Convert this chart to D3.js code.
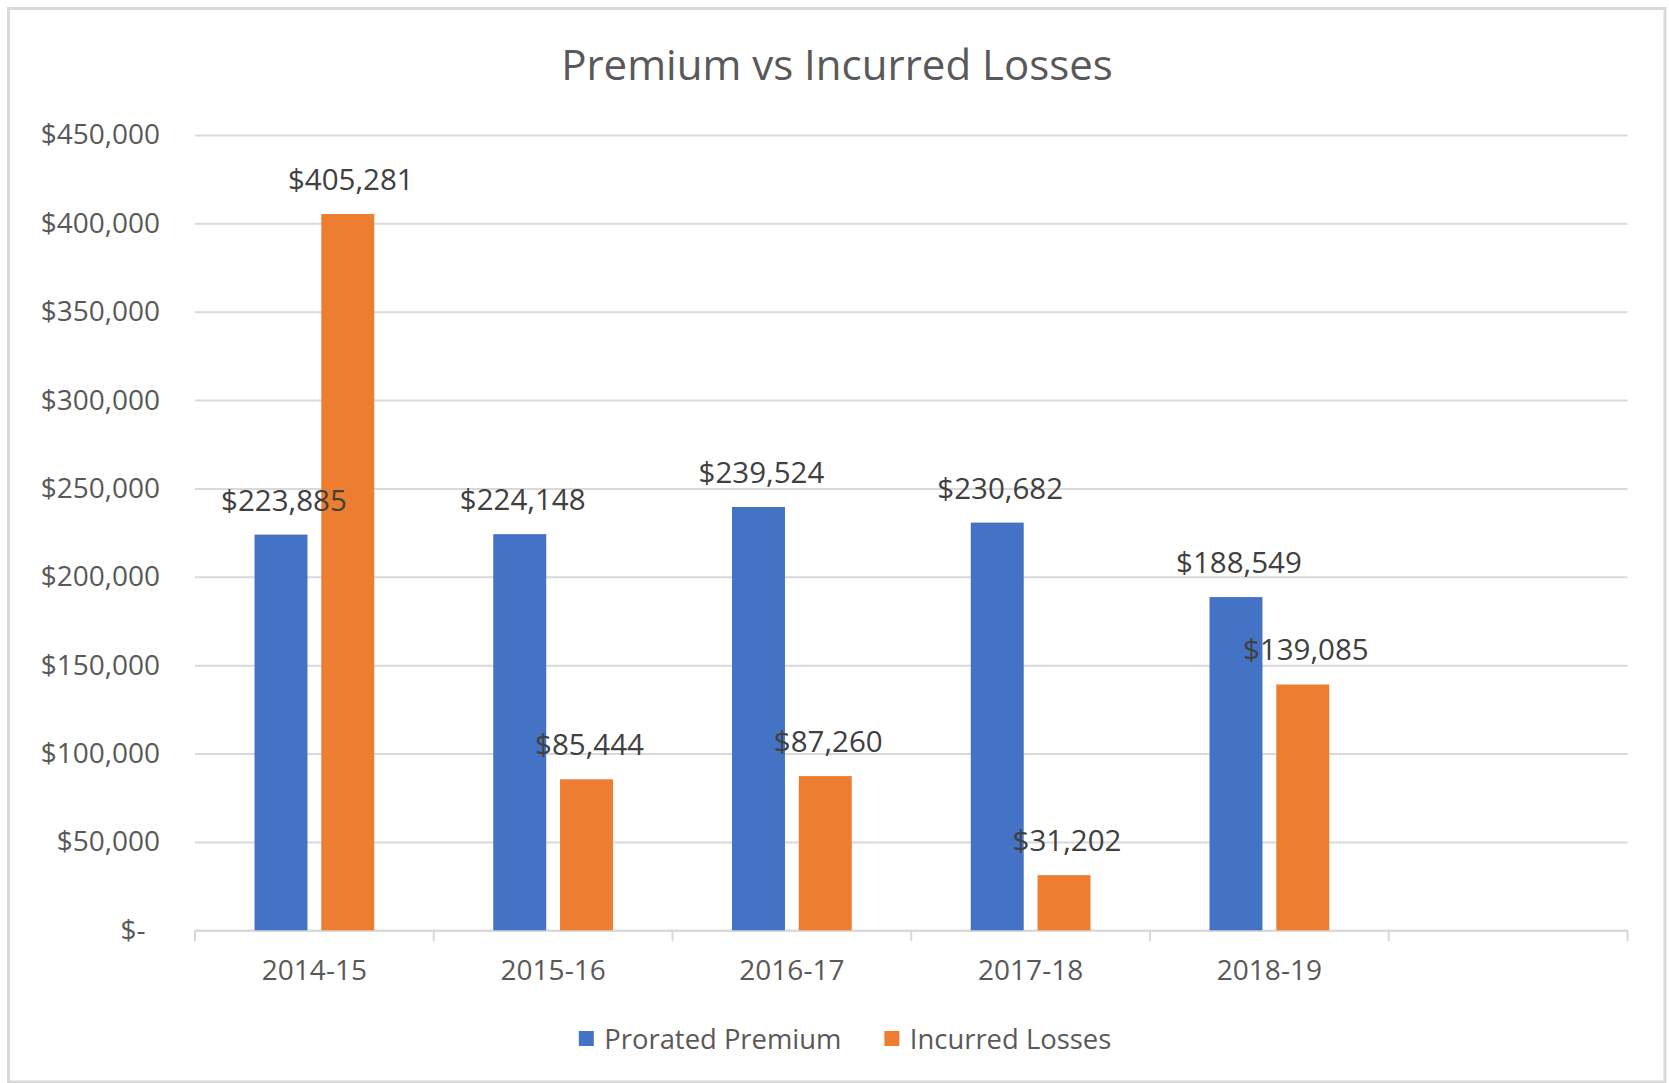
<!DOCTYPE html>
<html>
<head>
<meta charset="utf-8">
<script src="https://cdn.jsdelivr.net/npm/d3@7"></script>
<style>
  body { margin: 0; background: #fff; }
  text { font-family: "Open Sans", sans-serif; }
</style>
</head>
<body>
<div class="container"></div>
<script>
// chart data
var categories = ["2014-15", "2015-16", "2016-17", "2017-18", "2018-19", ""];
var seriesNames = ["Prorated Premium", "Incurred Losses"];
var premium = [223885, 224148, 239524, 230682, 188549];
var losses = [405281, 85444, 87260, 31202, 139085];
var yTicks = [0, 50000, 100000, 150000, 200000, 250000, 300000, 350000, 400000, 450000];
var colors = ["#4472C4", "#ED7D31"];

var W = 1669, H = 1083;
var margin = {top: 135, right: 41.5, bottom: 152.7, left: 195};
var width = W - margin.left - margin.right,
    height = H - margin.top - margin.bottom;

var svg = d3.select(".container")
  .append("svg")
    .attr("width", W)
    .attr("height", H);

// chart border
svg.append("rect")
  .attr("x", 8.5).attr("y", 8.5)
  .attr("width", W - 4 - 8.5).attr("height", H - 1 - 8.5)
  .attr("fill", "#fff")
  .attr("stroke", "#d9d9d9")
  .attr("stroke-width", 3);

svg.append("text")
  .attr("x", 837)
  .attr("y", 80)
  .attr("text-anchor", "middle")
  .attr("font-size", 42)
  .attr("fill", "#595959")
  .text("Premium vs Incurred Losses");

var g = svg.append("g")
  .attr("transform", "translate(" + margin.left + "," + margin.top + ")");

var x = d3.scaleBand().domain(categories).range([0, width]);
var xSub = d3.scaleBand().domain(seriesNames)
  .range([0, x.bandwidth()])
  .paddingInner(0.207)
  .paddingOuter(0.891);
var y = d3.scaleLinear().domain([0, 450000]).range([height, 0]);

// y axis + gridlines
var yAxis = g.append("g")
  .call(d3.axisLeft(y)
    .tickValues(yTicks)
    .tickSize(-width)
    .tickPadding(35)
    .tickFormat(function(d) { return d === 0 ? "$-  " : d3.format("$,")(d); }));
yAxis.select(".domain").remove();
yAxis.selectAll(".tick line").attr("stroke", "#d9d9d9").attr("stroke-width", 2);
yAxis.selectAll(".tick text")
  .attr("font-size", 28)
  .attr("fill", "#595959")
  .style("white-space", "pre")
  .style("font-family", "'Open Sans', sans-serif");

// x axis
var xAxis = g.append("g")
  .attr("transform", "translate(0," + height + ")")
  .call(d3.axisBottom(x).tickSize(0).tickPadding(30));
xAxis.select(".domain").attr("stroke", "#d9d9d9").attr("stroke-width", 2);
xAxis.selectAll(".tick text")
  .attr("font-size", 28)
  .attr("fill", "#595959")
  .style("font-family", "'Open Sans', sans-serif");

// tick marks between categories
var bounds = categories.map(function(c) { return x(c); }).concat([width]);
xAxis.selectAll("line.sep")
  .data(bounds)
  .enter()
  .append("line")
    .attr("class", "sep")
    .attr("x1", function(d) { return d; })
    .attr("x2", function(d) { return d; })
    .attr("y1", 0)
    .attr("y2", 11)
    .attr("stroke", "#d9d9d9")
    .attr("stroke-width", 2);

// bars
var rows = [];
premium.forEach(function(v, i) {
  rows.push({cat: categories[i], s: seriesNames[0], v: v, c: colors[0]});
  rows.push({cat: categories[i], s: seriesNames[1], v: losses[i], c: colors[1]});
});

g.append("g")
  .selectAll("rect")
  .data(rows)
  .enter()
  .append("rect")
    .attr("x", function(d) { return x(d.cat) + xSub(d.s); })
    .attr("y", function(d) { return y(d.v); })
    .attr("width", xSub.bandwidth())
    .attr("height", function(d) { return height - y(d.v); })
    .attr("fill", function(d) { return d.c; });

// data labels (sit slightly right of bar centre, as in excel)
g.append("g")
  .selectAll("text")
  .data(rows)
  .enter()
  .append("text")
    .attr("x", function(d) { return x(d.cat) + xSub(d.s) + xSub.bandwidth() / 2 + 3; })
    .attr("y", function(d) { return y(d.v) - 24; })
    .attr("text-anchor", "middle")
    .attr("font-size", 29.5)
    .attr("fill", "#404040")
    .text(function(d) { return d3.format("$,")(d.v); });

// legend
var legend = svg.append("g");
var items = legend.selectAll("g")
  .data(seriesNames)
  .enter()
  .append("g");
items.append("rect")
  .attr("width", 15).attr("height", 15)
  .attr("y", 1031)
  .attr("fill", function(d, i) { return colors[i]; });
items.append("text")
  .attr("x", 25.5)
  .attr("y", 1048.5)
  .attr("font-size", 27.4)
  .attr("fill", "#595959")
  .text(function(d) { return d; });

var offs = 0, widths = [];
items.each(function() {
  widths.push(d3.select(this).select("text").node().getComputedTextLength() + 25.5);
});
var total = d3.sum(widths) + 43 * (widths.length - 1);
var start = 845 - total / 2;
items.attr("transform", function(d, i) {
  var tx = start + offs;
  offs += widths[i] + 43;
  return "translate(" + tx + ",0)";
});
</script>
</body>
</html>
